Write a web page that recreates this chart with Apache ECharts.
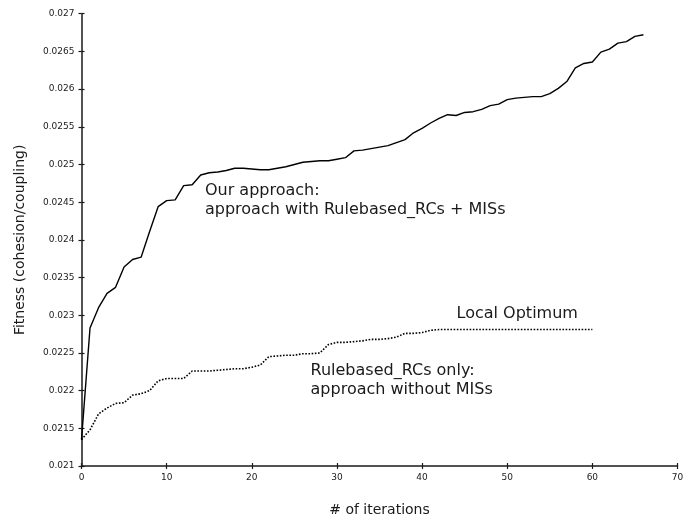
<!DOCTYPE html>
<html>
<head>
<meta charset="utf-8">
<script src="https://cdn.jsdelivr.net/npm/echarts@6/dist/echarts.min.js"></script>
<style>
  html, body { margin: 0; padding: 0; background: #fff; }
  #chart { width: 687px; height: 521px; }
</style>
</head>
<body>
<div id="chart"></div>
<script>
// Fitness per iteration, one value per iteration starting at 0
const iterations = Array.from({ length: 67 }, (_, i) => i);

const ourApproach = [
  0.02135, 0.02283, 0.02310, 0.02329, 0.02337, 0.02364, 0.02374, 0.02377, 0.02411, 0.02444,
  0.02452, 0.02453, 0.02472, 0.02473, 0.02486, 0.02489, 0.02490, 0.02492, 0.02495, 0.02495,
  0.02494, 0.02493, 0.02493, 0.02495, 0.02497, 0.02500, 0.02503, 0.02504, 0.02505, 0.02505,
  0.02507, 0.02509, 0.02518, 0.02519, 0.02521, 0.02523, 0.02525, 0.02529, 0.02533, 0.02542,
  0.02548, 0.02555, 0.02561, 0.02566, 0.02565, 0.02569, 0.02570, 0.02573, 0.02578, 0.02580,
  0.02586, 0.02588, 0.02589, 0.02590, 0.02590, 0.02594, 0.02601, 0.02610, 0.02628, 0.02634,
  0.02636, 0.02649, 0.02653, 0.02661, 0.02663, 0.02670, 0.02672
];

const rulebasedOnly = [
  0.02135, 0.02148, 0.02169, 0.02177, 0.02183, 0.02184, 0.02194, 0.02196, 0.02200, 0.02213,
  0.02216, 0.02216, 0.02216, 0.02226, 0.02226, 0.02226, 0.02227, 0.02228, 0.02229, 0.02229,
  0.02231, 0.02234, 0.02245, 0.02246, 0.02247, 0.02247, 0.02249, 0.02249, 0.02250, 0.02261,
  0.02264, 0.02264, 0.02265, 0.02266, 0.02268, 0.02268, 0.02269, 0.02271, 0.02276, 0.02276,
  0.02277, 0.02280, 0.02281, 0.02281, 0.02281, 0.02281, 0.02281, 0.02281, 0.02281, 0.02281,
  0.02281, 0.02281, 0.02281, 0.02281, 0.02281, 0.02281, 0.02281, 0.02281, 0.02281, 0.02281,
  0.02281
];

const xTicks = [0, 10, 20, 30, 40, 50, 60, 70];
const yTicks = ['0.021', '0.0215', '0.022', '0.0225', '0.023', '0.0235', '0.024',
                '0.0245', '0.025', '0.0255', '0.026', '0.0265', '0.027'];

const xTitle = '# of iterations';
const yTitle = 'Fitness (cohesion/coupling)';

// Annotations anchored in data space: [x, y] is the top-left of the first line
const notes = [
  { at: [14.5, 0.02475], lines: ['Our approach:', 'approach with Rulebased_RCs + MISs'] },
  { at: [44.05, 0.023122], lines: ['Local Optimum'] },
  { at: [26.9, 0.022366], lines: ['Rulebased_RCs only:', 'approach without MISs'] }
];

const FONT = '"DejaVu Sans", Verdana, sans-serif';
const INK = '#1a1a1a';

const toPairs = (ys) => ys.map((v, i) => [iterations[i], v]);

const chart = echarts.init(document.getElementById('chart'), null, { renderer: 'canvas' });

const baseX = {
  type: 'value', min: xTicks[0], max: xTicks[xTicks.length - 1], interval: 10,
  position: 'bottom', splitLine: { show: false }
};
const baseY = {
  type: 'value', min: +yTicks[0], max: +yTicks[yTicks.length - 1], interval: 0.0005,
  position: 'left', splitLine: { show: false }
};

chart.setOption({
  animation: false,
  backgroundColor: '#ffffff',
  grid: {
    left: 81.5, right: 9.5, top: 13.7, bottom: 55,
    containLabel: false, outerBoundsMode: 'none'
  },
  xAxis: [
    Object.assign({}, baseX, {
      name: xTitle, nameLocation: 'middle', nameGap: 37,
      nameTextStyle: { fontFamily: FONT, fontSize: 14, color: INK },
      axisLine: { lineStyle: { color: INK, width: 1.5 } },
      axisTick: { show: true, inside: false, length: 3, lineStyle: { color: INK, width: 1.2 } },
      axisLabel: { fontFamily: FONT, fontSize: 9, color: INK, margin: 7 }
    }),
    Object.assign({}, baseX, {
      axisLine: { show: false },
      axisTick: { show: true, inside: true, length: 3, lineStyle: { color: INK, width: 1.2 } },
      axisLabel: { show: false }
    })
  ],
  yAxis: [
    Object.assign({}, baseY, {
      name: yTitle, nameLocation: 'middle', nameGap: 54, nameRotate: 90,
      nameTextStyle: { fontFamily: FONT, fontSize: 14, color: INK },
      axisLine: { lineStyle: { color: INK, width: 1.5 } },
      axisTick: { show: true, inside: false, length: 3, lineStyle: { color: INK, width: 1.2 } },
      axisLabel: {
        fontFamily: FONT, fontSize: 9, color: INK, margin: 7,
        formatter: (v) => String(+v.toFixed(4))
      }
    }),
    Object.assign({}, baseY, {
      axisLine: { show: false },
      axisTick: { show: true, inside: true, length: 3, lineStyle: { color: INK, width: 1.2 } },
      axisLabel: { show: false }
    })
  ],
  series: [
    {
      name: 'Our approach', type: 'line', data: toPairs(ourApproach),
      showSymbol: false, symbol: 'none', smooth: false,
      lineStyle: { color: '#000', width: 1.4 }, z: 3
    },
    {
      name: 'Rulebased_RCs only', type: 'line', data: toPairs(rulebasedOnly),
      showSymbol: false, symbol: 'none', smooth: false,
      lineStyle: { color: '#000', width: 1.6, type: [1.6, 1.6] }, z: 2
    }
  ]
});

// Place the text annotations from their data-space anchors
const graphics = [];
notes.forEach((n) => {
  const p = chart.convertToPixel({ gridIndex: 0 }, n.at);
  n.lines.forEach((line, k) => {
    graphics.push({
      type: 'text', x: p[0], y: p[1] + k * 19,
      style: { text: line, font: '16px ' + FONT, fill: INK, textAlign: 'left', textVerticalAlign: 'top' },
      z: 10
    });
  });
});
chart.setOption({ graphic: graphics });
</script>
</body>
</html>
